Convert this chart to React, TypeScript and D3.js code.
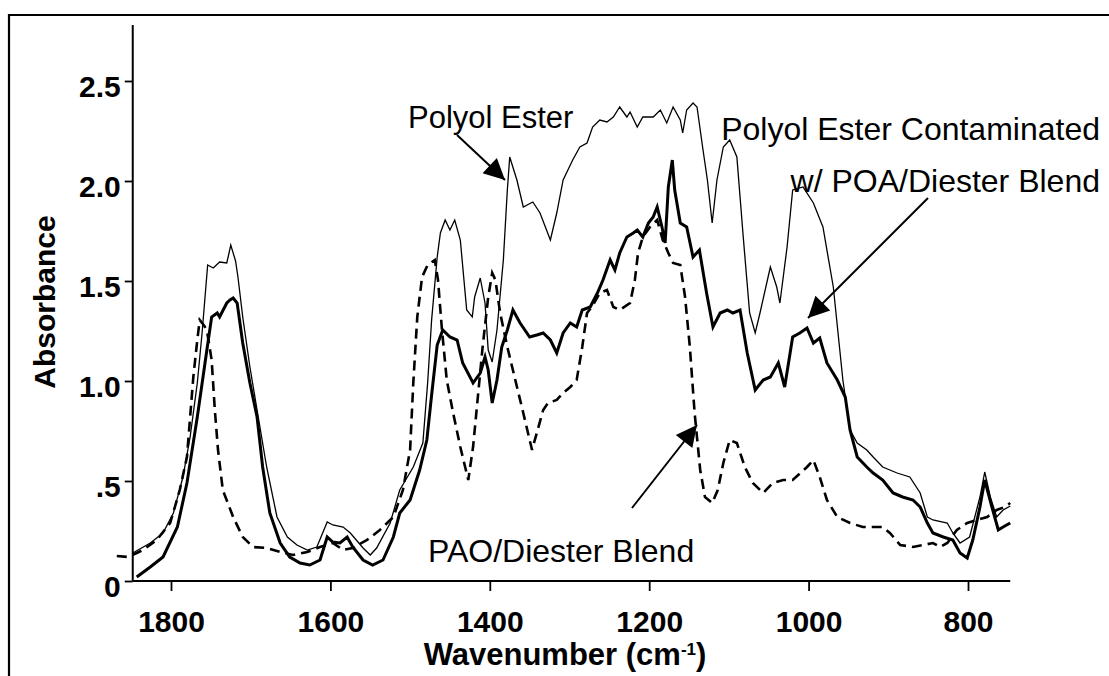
import React, { useEffect, useRef } from "react";
import * as d3 from "d3";

// [wavenumber (cm-1), absorbance]
const polyolEster: [number, number][] = [
  [1848, 0.14], [1826, 0.19], [1810, 0.24], [1797, 0.34], [1785, 0.52], [1776, 0.72], [1767, 0.99],
  [1761, 1.24], [1754, 1.58], [1747, 1.565], [1739, 1.595], [1730, 1.59], [1725, 1.68], [1719, 1.6],
  [1716, 1.52], [1710, 1.32], [1701, 1.07], [1692, 0.855], [1680, 0.57], [1667, 0.32], [1654, 0.22],
  [1642, 0.18], [1629, 0.155], [1617, 0.17], [1604, 0.295], [1597, 0.28], [1584, 0.27], [1575, 0.24],
  [1559, 0.165], [1550, 0.13], [1542, 0.165], [1525, 0.29], [1513, 0.455], [1496, 0.57], [1484, 0.69],
  [1478, 0.99], [1473, 1.305], [1466, 1.62], [1462, 1.74], [1456, 1.805], [1450, 1.755], [1444, 1.805],
  [1437, 1.705], [1429, 1.355], [1422, 1.32], [1419, 1.42], [1412, 1.515], [1406, 1.39], [1402, 1.155],
  [1397, 1.095], [1391, 1.255], [1383, 1.605], [1378, 1.955], [1375, 2.12], [1366, 2.005], [1358, 1.87],
  [1346, 1.895], [1337, 1.84], [1324, 1.705], [1316, 1.84], [1308, 2.005], [1296, 2.105], [1287, 2.17],
  [1278, 2.19], [1271, 2.27], [1262, 2.305], [1253, 2.295], [1245, 2.32], [1237, 2.37], [1228, 2.32],
  [1224, 2.345], [1215, 2.27], [1208, 2.32], [1195, 2.32], [1186, 2.355], [1178, 2.29], [1170, 2.37],
  [1161, 2.305], [1158, 2.24], [1153, 2.355], [1145, 2.39], [1140, 2.37], [1133, 2.17], [1127, 2.005],
  [1121, 1.79], [1115, 2.005], [1107, 2.17], [1099, 2.205], [1090, 2.12], [1082, 1.72], [1074, 1.34],
  [1067, 1.24], [1061, 1.34], [1048, 1.57], [1040, 1.47], [1036, 1.39], [1027, 1.67], [1020, 1.955],
  [1007, 1.97], [994, 1.89], [982, 1.77], [969, 1.47], [957, 1.005], [948, 0.755], [939, 0.69],
  [927, 0.655], [919, 0.62], [907, 0.57], [889, 0.54], [873, 0.52], [860, 0.44], [851, 0.32],
  [844, 0.305], [826, 0.29], [819, 0.24], [810, 0.19], [798, 0.22], [785, 0.42], [779, 0.545],
  [772, 0.42], [764, 0.32], [756, 0.355], [747, 0.375],
];

const contaminated: [number, number][] = [
  [1843, 0.02], [1826, 0.07], [1810, 0.12], [1792, 0.27], [1780, 0.49], [1767, 0.82], [1755, 1.155],
  [1749, 1.32], [1742, 1.34], [1739, 1.32], [1730, 1.39], [1726, 1.405], [1722, 1.415], [1717, 1.39],
  [1710, 1.19], [1701, 0.99], [1692, 0.82], [1685, 0.57], [1676, 0.34], [1663, 0.19], [1651, 0.12],
  [1638, 0.09], [1626, 0.08], [1613, 0.105], [1604, 0.22], [1597, 0.195], [1588, 0.19], [1579, 0.22],
  [1572, 0.17], [1559, 0.105], [1547, 0.08], [1534, 0.105], [1521, 0.22], [1513, 0.34], [1500, 0.405],
  [1488, 0.555], [1479, 0.705], [1473, 0.93], [1466, 1.18], [1459, 1.255], [1450, 1.22], [1441, 1.205],
  [1434, 1.09], [1421, 0.99], [1412, 1.04], [1406, 1.12], [1402, 1.055], [1397, 0.89], [1391, 1.005],
  [1385, 1.17], [1378, 1.255], [1371, 1.355], [1362, 1.29], [1350, 1.22], [1341, 1.23], [1333, 1.24],
  [1324, 1.205], [1316, 1.14], [1308, 1.24], [1299, 1.29], [1291, 1.27], [1284, 1.355], [1274, 1.37],
  [1265, 1.44], [1258, 1.505], [1249, 1.605], [1243, 1.555], [1237, 1.64], [1228, 1.72], [1220, 1.74],
  [1215, 1.755], [1208, 1.72], [1201, 1.79], [1195, 1.82], [1190, 1.87], [1184, 1.77], [1180, 1.69],
  [1176, 1.97], [1171, 2.105], [1168, 1.955], [1161, 1.79], [1153, 1.77], [1145, 1.62], [1137, 1.655],
  [1128, 1.44], [1120, 1.27], [1111, 1.34], [1102, 1.355], [1095, 1.34], [1086, 1.355], [1077, 1.14],
  [1067, 0.955], [1057, 1.005], [1048, 1.02], [1038, 1.09], [1030, 0.97], [1020, 1.22], [1011, 1.24],
  [1002, 1.265], [994, 1.19], [986, 1.215], [977, 1.09], [964, 1.005], [954, 0.92], [948, 0.755],
  [939, 0.62], [927, 0.57], [919, 0.54], [907, 0.505], [894, 0.44], [882, 0.42], [869, 0.405],
  [860, 0.37], [851, 0.29], [844, 0.24], [831, 0.22], [819, 0.205], [810, 0.14], [801, 0.115],
  [794, 0.205], [785, 0.37], [779, 0.505], [770, 0.37], [762, 0.255], [756, 0.27], [747, 0.29],
];

const paoDiester: [number, number][] = [
  [1868, 0.125], [1854, 0.12], [1835, 0.155], [1818, 0.205], [1801, 0.29], [1789, 0.455], [1780, 0.62],
  [1776, 0.82], [1772, 1.02], [1767, 1.205], [1764, 1.305], [1759, 1.28], [1755, 1.255], [1749, 1.105],
  [1745, 0.855], [1741, 0.655], [1735, 0.455], [1722, 0.32], [1710, 0.22], [1697, 0.17], [1680, 0.165],
  [1663, 0.145], [1647, 0.13], [1629, 0.145], [1613, 0.17], [1597, 0.19], [1584, 0.155], [1572, 0.165],
  [1554, 0.205], [1538, 0.255], [1521, 0.32], [1509, 0.455], [1500, 0.655], [1496, 0.99], [1491, 1.32],
  [1485, 1.52], [1478, 1.58], [1469, 1.605], [1465, 1.505], [1460, 1.255], [1454, 1.005], [1446, 0.84],
  [1437, 0.67], [1427, 0.505], [1421, 0.67], [1415, 0.92], [1409, 1.17], [1402, 1.42], [1397, 1.54],
  [1393, 1.505], [1387, 1.34], [1378, 1.17], [1368, 1.005], [1358, 0.84], [1347, 0.655], [1340, 0.755],
  [1333, 0.855], [1327, 0.89], [1316, 0.905], [1308, 0.94], [1299, 0.97], [1291, 1.005], [1284, 1.17],
  [1278, 1.34], [1272, 1.37], [1262, 1.44], [1253, 1.455], [1245, 1.37], [1237, 1.355], [1224, 1.39],
  [1218, 1.505], [1214, 1.64], [1208, 1.72], [1199, 1.77], [1190, 1.805], [1183, 1.705], [1176, 1.64],
  [1170, 1.59], [1161, 1.58], [1155, 1.42], [1149, 1.17], [1143, 0.84], [1136, 0.555], [1130, 0.42],
  [1121, 0.39], [1114, 0.455], [1107, 0.59], [1099, 0.705], [1090, 0.69], [1080, 0.57], [1070, 0.49],
  [1057, 0.44], [1045, 0.49], [1032, 0.505], [1020, 0.505], [1002, 0.57], [994, 0.605], [986, 0.52],
  [977, 0.405], [964, 0.32], [948, 0.29], [932, 0.27], [919, 0.27], [907, 0.27], [898, 0.24],
  [885, 0.18], [869, 0.17], [856, 0.18], [844, 0.19], [835, 0.17], [826, 0.19], [814, 0.255],
  [801, 0.29], [789, 0.305], [776, 0.32], [764, 0.355], [754, 0.37], [747, 0.39],
];

const xTicks = [1800, 1600, 1400, 1200, 1000, 800];
const yTicks = [0, 0.5, 1.0, 1.5, 2.0, 2.5];
const yTickLabels = ["0", ".5", "1.0", "1.5", "2.0", "2.5"];

const W = 1109;
const H = 676;

export default function App() {
  const ref = useRef<SVGSVGElement>(null);

  useEffect(() => {
    const svg = d3.select(ref.current);
    svg.selectAll("*").remove();

    const x = d3.scaleLinear().domain([1800, 800]).range([171, 968]);
    const y = d3.scaleLinear().domain([0, 2.5]).range([581, 81]);
    const x0 = x(1848);
    const x1 = x(747);
    const yTop = y(2.78);
    const font = "'Liberation Sans', Arial, sans-serif";

    // frame
    svg.append("path").attr("d", `M9,${H} L9,15 L${W},15`).attr("fill", "none")
      .attr("stroke", "#000").attr("stroke-width", 2.2);

    const defs = svg.append("defs");
    defs.append("marker").attr("id", "ah").attr("viewBox", "0 0 10 10")
      .attr("refX", 10).attr("refY", 5).attr("markerUnits", "userSpaceOnUse")
      .attr("markerWidth", 27).attr("markerHeight", 21).attr("orient", "auto")
      .append("path").attr("d", "M0,0 L10,5 L0,10 Z").attr("fill", "#000");

    // axes
    const ax = svg.append("g").attr("transform", `translate(0,${y(0)})`)
      .call(d3.axisBottom(x).tickValues(xTicks).tickSize(10).tickFormat(d3.format("d")) as any);
    ax.select(".domain").attr("d", `M${x0},0H${x1}`).attr("stroke-width", 2);
    ax.selectAll(".tick line").attr("stroke-width", 1.8);
    ax.selectAll(".tick text").attr("font-family", font)
      .attr("font-weight", "bold").attr("font-size", 30).attr("fill", "#000")
      .attr("y", 51).attr("dy", 0);

    const ay = svg.append("g").attr("transform", `translate(${x0},0)`)
      .call(d3.axisLeft(y).tickValues(yTicks).tickSize(8)
        .tickFormat((d: any, i: number) => yTickLabels[i]) as any);
    ay.select(".domain").attr("d", `M0,${yTop}V${y(0)}`).attr("stroke-width", 2);
    ay.selectAll(".tick line").attr("stroke-width", 1.8);
    ay.selectAll(".tick text").attr("font-family", font)
      .attr("font-weight", "bold").attr("font-size", 30).attr("fill", "#000")
      .attr("x", -12).attr("dy", "0.5em");

    // axis titles
    const xt = svg.append("text").attr("x", 565).attr("y", 665).attr("text-anchor", "middle")
      .attr("font-family", font).attr("font-weight", "bold")
      .attr("font-size", 31).attr("fill", "#000");
    xt.append("tspan").text("Wavenumber (cm");
    xt.append("tspan").attr("dy", -10).attr("font-size", 17).text("-1");
    xt.append("tspan").attr("dy", 10).text(")");

    svg.append("text").attr("transform", `translate(55,${302}) rotate(-90)`)
      .attr("text-anchor", "middle").attr("font-family", font)
      .attr("font-weight", "bold").attr("font-size", 30).attr("fill", "#000").text("Absorbance");

    const line = d3.line<[number, number]>().x((d) => x(d[0])).y((d) => y(d[1]));

    svg.append("path").datum(paoDiester).attr("d", line).attr("fill", "none")
      .attr("stroke", "#000").attr("stroke-width", 2.6).attr("stroke-dasharray", "10,6");
    svg.append("path").datum(polyolEster).attr("d", line).attr("fill", "none")
      .attr("stroke", "#000").attr("stroke-width", 1.3);
    svg.append("path").datum(contaminated).attr("d", line).attr("fill", "none")
      .attr("stroke", "#000").attr("stroke-width", 3);

    // annotations
    const ann = (tx: number, ty: number, s: string, size: number, anchor = "start") =>
      svg.append("text").attr("x", tx).attr("y", ty).attr("text-anchor", anchor)
        .attr("font-family", font).attr("font-size", size).attr("fill", "#000").text(s);
    ann(408, 128, "Polyol Ester", 31);
    ann(1100, 140, "Polyol Ester Contaminated", 32, "end");
    ann(1100, 192, "w/ POA/Diester Blend", 32, "end");
    ann(428, 562, "PAO/Diester Blend", 32);

    const arrow = (ax1: number, ay1: number, ax2: number, ay2: number) =>
      svg.append("line").attr("x1", ax1).attr("y1", ay1).attr("x2", ax2).attr("y2", ay2)
        .attr("stroke", "#000").attr("stroke-width", 2).attr("marker-end", "url(#ah)");
    arrow(457, 135, 505, 180);
    arrow(928, 198, 808, 318);
    arrow(632, 508, 697, 425);
  }, []);

  return (
    <svg ref={ref} width={W} height={H}
      style={{ position: "absolute", left: 0, top: 0, background: "#fff" }} />
  );
}
